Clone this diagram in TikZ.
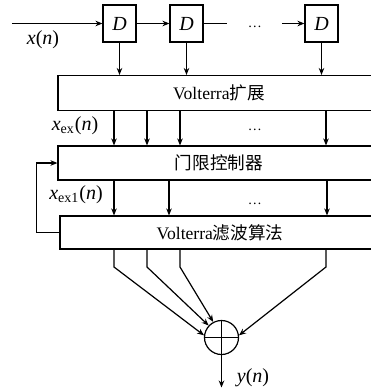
\documentclass[tikz,border=0pt]{standalone}
\usepackage{fontspec}
\setmainfont{Liberation Serif}
\newfontfamily\cjk{Noto Sans CJK SC}
\usetikzlibrary{arrows.meta}

\begin{document}
\begin{tikzpicture}[x=0.5pt,y=-0.5pt,
    every node/.style={font=\fontsize{8.8}{10}\selectfont},
    lbl/.style={font=\fontsize{10}{12}\selectfont},
    delay/.style={draw,line width=0.6pt,minimum width=16.5pt,minimum height=18.5pt,inner sep=0pt,font=\fontsize{10}{12}\selectfont},
    blk/.style={draw,line width=0.6pt,minimum width=161pt,minimum height=17pt,inner sep=0pt},
    dots/.style={font=\scriptsize,anchor=base},
    arr/.style={-{Stealth[length=3.5pt,width=2.8pt]},line width=0.6pt}]
  \useasboundingbox (0,0) rectangle (371,388);
  \clip (0,0) rectangle (371,388);

  % delay line
  \node[delay] (d1) at (119.5,23.5) {\textit{D}};
  \node[delay] (d2) at (186.5,23.5) {\textit{D}};
  \node[delay] (d3) at (321.5,23.5) {\textit{D}};
  \coordinate (in) at (12,23.5);
  \coordinate (t1) at (227,23.5);
  \coordinate (t2) at (282,23.5);
  \node[dots] (dots1) at (255,27) {…};
  \node[lbl] (xin) at (43,40) {\textit{x}(\textit{n})};

  % processing blocks
  \node[blk,minimum height=17.5pt] (ex) at (219,93) {Volterra{\cjk 扩展}};
  \node[blk] (thr) at (219,163) {{\cjk 门限控制器}};
  \node[blk,minimum width=160pt,minimum height=16.5pt] (flt) at (220,232.5) {Volterra{\cjk 滤波算法}};
  \node[dots] (dots2) at (255,130) {…};
  \node[dots] (dots3) at (255,204) {…};
  \node[lbl] (xex) at (75,126) {\textit{x}\textsubscript{ex}(\textit{n})};
  \node[lbl] (xex1) at (76,195) {\textit{x}\textsubscript{ex1}(\textit{n})};

  % adder
  \node[circle,draw,line width=0.6pt,minimum size=17pt,inner sep=0pt] (sum) at (221.5,337.5) {};
  \draw[line width=0.6pt] (sum.north) -- (sum.south) (sum.west) -- (sum.east);
  \coordinate (out) at (221.5,387.5);
  \node[lbl] (yout) at (253,378) {\textit{y}(\textit{n})};

  \draw[arr] (in) -- (d1);
  \draw[arr] (d1) -- (d2);
  \draw[line width=0.6pt] (d2) -- (t1);
  \draw[arr] (t2) -- (d3);
  \foreach \d in {d1,d2,d3}
    \draw[arr] (\d) -- (\d |- ex.north);
  \foreach \x in {114,147,180,326}
    \draw[arr] (\x,0 |- ex.south) -- (\x,0 |- thr.north);
  \foreach \x in {114,169,327}
    \draw[arr] (\x,0 |- thr.south) -- (\x,0 |- flt.north);
  \draw[arr] (flt.west) -- ++(-23,0) |- (thr.west);
  \foreach \x/\a in {114/173,147/137,180/118,326/7}
    \draw[arr] (\x,0 |- flt.south) -- (\x,267) -- (sum.\a);
  \draw[arr] (sum) -- (out);
\end{tikzpicture}
\end{document}
